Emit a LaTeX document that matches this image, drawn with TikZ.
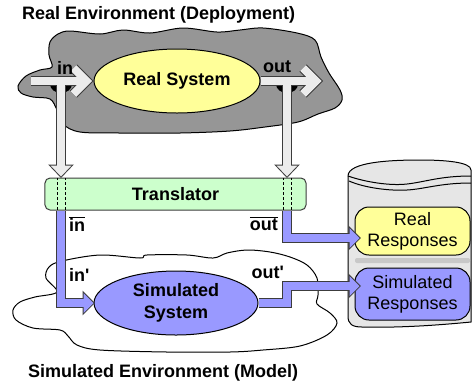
\documentclass[tikz,border=0pt]{standalone}
\usepackage{fontspec}
\setmainfont{Liberation Sans}
\usetikzlibrary{shapes.geometric,calc}

\definecolor{cloudgray}{RGB}{150,150,150}
\definecolor{sysyellow}{RGB}{255,255,153}
\definecolor{simblue}{RGB}{153,153,255}
\definecolor{trgreen}{RGB}{204,255,204}
\definecolor{arrowwhite}{RGB}{236,236,236}
\definecolor{edgegray}{RGB}{60,60,60}
\definecolor{dbgray}{RGB}{230,230,230}
\definecolor{sepgray}{RGB}{200,200,200}

\tikzset{
  ttl/.style={font=\bfseries\fontsize{18bp}{22bp}\selectfont, inner sep=0, anchor=west},
  lbl/.style={font=\bfseries\fontsize{18bp}{22bp}\selectfont, inner sep=0, align=center},
  resp/.style={font=\fontsize{18bp}{21bp}\selectfont, align=center},
  cloudline/.style={draw=black, line width=1bp},
  sysnode/.style={ellipse, draw=black, line width=1bp, inner sep=0},
  respbox/.style={rectangle, rounded corners=14bp, draw=black, line width=1bp,
    minimum width=115bp, inner sep=0, resp},
  barout/.style={line width=10bp, draw=edgegray, line join=miter},
  barwhite/.style={line width=8bp, draw=arrowwhite, line join=miter},
  barblue/.style={line width=8bp, draw=simblue, line join=miter},
  headout/.style={fill=edgegray, draw=edgegray, line width=2bp, line join=miter},
  trdash/.style={densely dashed, line width=0.5bp, draw=black},
}

\begin{document}
\begin{tikzpicture}[x=1bp,y=-1bp]
\useasboundingbox (0,0) rectangle (473,387);

% clouds for the two environments
\filldraw[fill=cloudgray, cloudline] plot[smooth cycle, tension=0.55] coordinates {
  (18,86) (26,76) (40,70) (52,67) (49,55) (50,42) (58,34) (70,31) (100,34)
  (123,30) (150,33) (183,28) (217,32) (240,30) (263,28) (297,33) (315,40)
  (321,57) (329,73) (340,90) (342,100) (335,108) (318,114) (298,122) (265,127)
  (230,131) (180,133) (120,133) (80,132) (63,124) (57,110) (50,99) (33,97) (21,93)};
\filldraw[fill=white, cloudline] plot[smooth cycle, tension=0.55] coordinates {
  (13,310) (20,302) (35,297) (57,292) (46,278) (49,267) (62,261) (100,255)
  (140,258) (147,255) (187,255) (213,258) (227,253) (247,250) (270,252)
  (290,257) (307,265) (317,278) (318,295) (317,304) (330,313) (337,323)
  (327,335) (300,346) (263,350) (230,352) (167,352) (100,350) (77,345)
  (68,336) (60,330) (33,328) (16,320)};

% response database
\filldraw[fill=dbgray, draw=black, line width=1bp]
  (348,176) -- (348,316) .. controls (348,324) and (352,327) .. (362,327)
  .. controls (400,328) and (440,325) .. (471,322) -- (471,170)
  .. controls (471,162) and (445,160) .. (420,160)
  .. controls (390,160) and (348,162) .. (348,176) -- cycle;
\draw[line width=1bp] (348,176) .. controls (365,182) and (390,186) .. (407,184)
  .. controls (425,182) and (440,176) .. (471,176);
\draw[line width=1bp] (349,181) .. controls (365,188) and (390,191) .. (407,190)
  .. controls (425,189) and (440,183) .. (471,183);
\node[respbox, fill=sysyellow, minimum height=48bp] (rr) at (412.5,231) {Real\\Responses};
\fill[sepgray, rounded corners=2bp] (355,258) rectangle (470,263);
\node[respbox, fill=simblue, minimum height=52bp] (sr) at (412.5,294) {Simulated\\Responses};

% taps under the real system ports
\fill[black] (50,84) arc[start angle=180, end angle=0, x radius=11, y radius=9] -- cycle;
\fill[black] (276,84) arc[start angle=180, end angle=0, x radius=11, y radius=9] -- cycle;

% systems and translator
\node[sysnode, fill=sysyellow, minimum width=166bp, minimum height=64bp, lbl] (rs) at (177,81) {Real System};
\node[draw=edgegray, fill=trgreen, line width=1bp, rounded corners=5bp,
  minimum width=261bp, minimum height=32bp, lbl] (tr) at (175.5,194) {Translator};
\node[sysnode, fill=simblue, minimum width=164bp, minimum height=64bp, lbl] (ss) at (176,303) {Simulated\\System};

% port coordinates
\coordinate (inTail) at (31,81);
\coordinate (inJ) at (61,81);
\coordinate (outJ) at (287,81);
\coordinate (outTip) at (323,81);

% white port arrows: outline pass
\draw[barout] (inTail) -- ($(rs.west)+(-7,0)$);
\draw[barout] ($(rs.west)+(-20,-13)$) -- ($(rs.west)+(-7,0)$) -- ($(rs.west)+(-20,13)$);
\draw[barout] (rs.east) -- ($(outTip)+(-7,0)$);
\draw[barout] ($(outTip)+(-20,-13)$) -- ($(outTip)+(-7,0)$) -- ($(outTip)+(-20,13)$);
\draw[barout] (inJ) -- ($(inJ |- tr.north)+(0,-12)$);
\draw[barout] (outJ) -- ($(outJ |- tr.north)+(0,-12)$);
\filldraw[headout] ($(inJ |- tr.north)+(-10.5,-12)$) -- ($(inJ |- tr.north)+(0,-1)$) -- ($(inJ |- tr.north)+(10.5,-12)$) -- cycle;
\filldraw[headout] ($(outJ |- tr.north)+(-10.5,-12)$) -- ($(outJ |- tr.north)+(0,-1)$) -- ($(outJ |- tr.north)+(10.5,-12)$) -- cycle;
% white port arrows: fill pass
\draw[barwhite] (inTail) -- ($(rs.west)+(-7,0)$);
\draw[barwhite] ($(rs.west)+(-20,-13)$) -- ($(rs.west)+(-7,0)$) -- ($(rs.west)+(-20,13)$);
\draw[barwhite] (rs.east) -- ($(outTip)+(-7,0)$);
\draw[barwhite] ($(outTip)+(-20,-13)$) -- ($(outTip)+(-7,0)$) -- ($(outTip)+(-20,13)$);
\draw[barwhite] (inJ) -- ($(inJ |- tr.north)+(0,-12)$);
\draw[barwhite] (outJ) -- ($(outJ |- tr.north)+(0,-12)$);
\fill[arrowwhite] ($(inJ |- tr.north)+(-10.5,-12)$) -- ($(inJ |- tr.north)+(0,-1)$) -- ($(inJ |- tr.north)+(10.5,-12)$) -- cycle;
\fill[arrowwhite] ($(outJ |- tr.north)+(-10.5,-12)$) -- ($(outJ |- tr.north)+(0,-1)$) -- ($(outJ |- tr.north)+(10.5,-12)$) -- cycle;

% translated inputs and outputs
\coordinate (ssTip) at (ss.west);
\coordinate (rrTip) at ($(rr.west)+(5,7)$);
\coordinate (srTip) at ($(sr.west)+(5,-8)$);
\draw[barout] (inJ |- tr.south) |- ($(ssTip)+(-10,0)$);
\draw[barout] (outJ |- tr.south) |- ($(rrTip)+(-10,0)$);
\draw[barout] (ss.east) -- (ss.east -| outJ) |- ($(srTip)+(-10,0)$);
\filldraw[headout] ($(ssTip)+(-10,-10)$) -- (ssTip) -- ($(ssTip)+(-10,10)$) -- cycle;
\filldraw[headout] ($(rrTip)+(-10,-10)$) -- (rrTip) -- ($(rrTip)+(-10,10)$) -- cycle;
\filldraw[headout] ($(srTip)+(-10,-10)$) -- (srTip) -- ($(srTip)+(-10,10)$) -- cycle;
\draw[barblue] (inJ |- tr.south) |- ($(ssTip)+(-10,0)$);
\draw[barblue] (outJ |- tr.south) |- ($(rrTip)+(-10,0)$);
\draw[barblue] (ss.east) -- (ss.east -| outJ) |- ($(srTip)+(-10,0)$);
\fill[simblue] ($(ssTip)+(-10,-10)$) -- (ssTip) -- ($(ssTip)+(-10,10)$) -- cycle;
\fill[simblue] ($(rrTip)+(-10,-10)$) -- (rrTip) -- ($(rrTip)+(-10,10)$) -- cycle;
\fill[simblue] ($(srTip)+(-10,-10)$) -- (srTip) -- ($(srTip)+(-10,10)$) -- cycle;

% signal paths through the translator
\foreach \dx in {-4,4} {
  \draw[trdash] ($(inJ |- tr.north)+(\dx,0)$) -- ($(inJ |- tr.south)+(\dx,0)$);
  \draw[trdash] ($(outJ |- tr.north)+(\dx,0)$) -- ($(outJ |- tr.south)+(\dx,0)$);
}

% port labels
\node[lbl] (lin) at (65,68) {in};
\node[lbl] (lout) at (277,67) {out};
\node[lbl, anchor=west] (linbar) at (69,224) {$\overline{\hbox{in}}$};
\node[lbl, anchor=east] (loutbar) at (278,224) {$\overline{\hbox{out}}$};
\node[lbl, anchor=west] (linp) at (69,275) {in\textquotesingle};
\node[lbl, anchor=east] (loutp) at (284,272) {out\textquotesingle};

% environment titles
\node[ttl] (t1) at (22,15) {Real Environment (Deployment)};
\node[ttl] (t2) at (28,373) {Simulated Environment (Model)};
\end{tikzpicture}
\end{document}
